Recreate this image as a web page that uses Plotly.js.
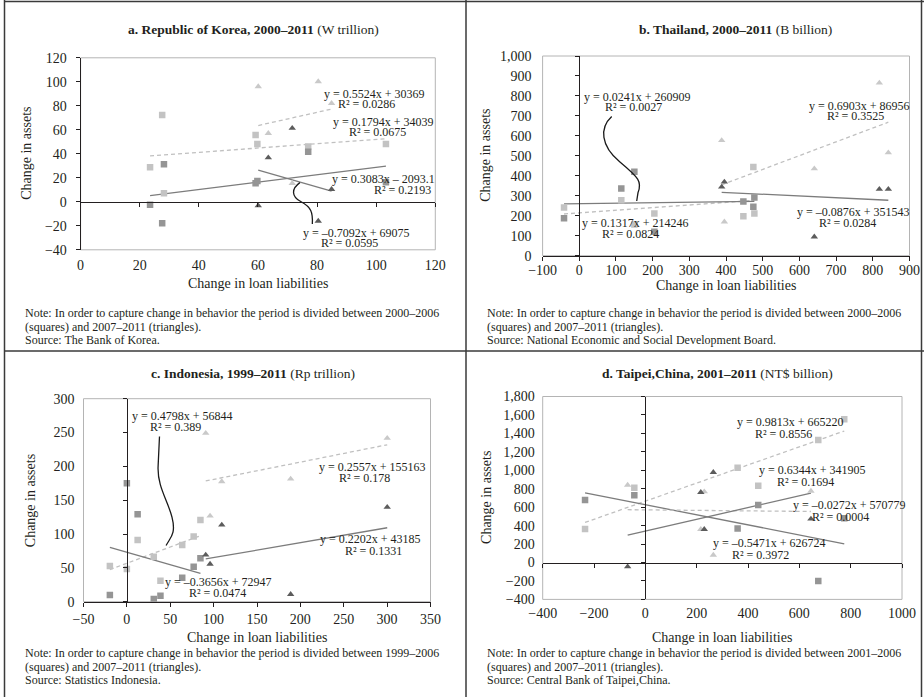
<!DOCTYPE html>
<html>
<head>
<meta charset="utf-8">
<script src="https://cdn.plot.ly/plotly-3.0.1.min.js"></script>
<style>
html,body{margin:0;padding:0;background:#fff;}
#chart{width:924px;height:697px;}
</style>
</head>
<body>
<div id="chart"></div>
<script>
// ---- a. Republic of Korea, 2000–2011 (W trillion) ----
const korLoanSq   = [23.5, 27.6, 28.2, 59.2, 59.8, 77.0, 103.3];
const korSqLight  = [28.8, 72.4, 7.1, 55.7, 48.2, 46.0, 48.2];
const korSqDark   = [-2.4, -17.9, 31.3, 15.4, 17.4, 41.8, 16.3];
const korLoanTri  = [60.1, 63.5, 71.6, 80.4, 84.9];
const korTriLight = [96.0, 57.1, 15.4, 100.2, 82.1];
const korTriDark  = [-3.2, 36.8, 61.3, -16.0, 10.4];
// trendline [slope, intercept, R²]
const korFitSqLight  = [0.1794, 34039, 0.0675];
const korFitSqDark   = [0.3083, -2093.1, 0.2193];
const korFitTriLight = [0.5524, 30369, 0.0286];
const korFitTriDark  = [-0.7092, 69075, 0.0595];

// ---- b. Thailand, 2000–2011 (B billion) ----
const thaLoanSq   = [-41.6, 114.5, 150.1, 204.6, 447.2, 474.4, 477.2];
const thaSqLight  = [241.3, 277.9, 156.4, 211.3, 198.0, 444.3, 211.3];
const thaSqDark   = [188.0, 336.1, 421.0, 119.8, 271.2, 244.6, 291.2];
const thaLoanTri  = [388.1, 395.4, 640.6, 817.8, 842.3];
const thaTriLight = [577.4, 169.7, 435.9, 865.2, 515.8];
const thaTriDark  = [344.4, 369.4, 94.8, 332.8, 332.8];
const thaFitSqLight  = [0.1317, 214246, 0.0824];
const thaFitSqDark   = [0.0241, 260909, 0.0027];
const thaFitTriLight = [0.6903, 86956, 0.3525];
const thaFitTriDark  = [-0.0876, 351543, 0.0284];

// ---- c. Indonesia, 1999–2011 (Rp trillion) ----
const idnLoanSq   = [-19.6, 0, 12.4, 31, 38.7, 63.8, 77, 84.8];
const idnSqLight  = [52.8, 48.3, 91.3, 66.6, 31.1, 83.9, 96.2, 120.9];
const idnSqDark   = [9.9, 175.1, 129.3, 3.9, 8.9, 35.5, 51.8, 64.1];
const idnLoanTri  = [90.9, 95.9, 109.4, 188.8, 300.1];
const idnTriLight = [249.1, 126.8, 177.6, 181.5, 241.7];
const idnTriDark  = [69.1, 55.7, 113.5, 10.9, 139.6];
const idnFitSqLight  = [0.4798, 56844, 0.389];
const idnFitSqDark   = [-0.3656, 72947, 0.0474];
const idnFitTriLight = [0.2557, 155163, 0.178];
const idnFitTriDark  = [0.2202, 43185, 0.1331];

// ---- d. Taipei,China, 2001–2011 (NT$ billion) ----
const twnLoanSq   = [-235, -43, 359.5, 439.9, 673.8, 775];
const twnSqLight  = [363, 811, 1028, 833, 1328, 1552];
const twnSqDark   = [678, 728, 370, 623, -201, 479];
const twnLoanTri  = [-69, 216, 229.6, 264.7, 645.2];
const twnTriLight = [840, 360, 768, 81, 775];
const twnTriDark  = [-45, 761, 360, 978, 472];
const twnFitSqLight  = [0.9813, 665220, 0.8556];
const twnFitSqDark   = [-0.5471, 626724, 0.3972];
const twnFitTriLight = [-0.0272, 570779, 0.0004];
const twnFitTriDark  = [0.6344, 341905, 0.1694];

const panelTitles = [
  '<b>a. Republic of Korea, 2000–2011</b> (W trillion)',
  '<b>b. Thailand, 2000–2011</b> (B billion)',
  '<b>c. Indonesia, 1999–2011</b> (Rp trillion)',
  '<b>d. Taipei,China, 2001–2011</b> (NT$ billion)'
];
const xTitle = 'Change in loan liabilities';
const yTitle = 'Change in assets';
const notePeriods = ['2000–2006', '2000–2006', '1999–2006', '2001–2006'];
const sources = [
  'Source: The Bank of Korea.',
  'Source: National Economic and Social Development Board.',
  'Source: Statistics Indonesia.',
  'Source: Central Bank of Taipei,China.'
];

// ---------------------------------------------------------------
const W = 924, H = 697;
const px = v => v / W;
const py = v => 1 - v / H;
const FONT = '"Liberation Serif", "Times New Roman", serif';
const INK = '#231f20';
const FRAME = '#b4b4b4';

const STYLE = {
  sqL:  {sym: 'square', size: 6.5, color: '#c3c3c3', fit: {color: '#c0c0c0', dash: '4px,3px'}},
  sqD:  {sym: 'square', size: 6.5, color: '#959595', fit: {color: '#7c7c7c', dash: 'solid'}},
  triL: {sym: 'triangle-up', size: 6.5, color: '#c9c9c9', fit: {color: '#c0c0c0', dash: '4px,3px'}},
  triD: {sym: 'triangle-up', size: 6.5, color: '#5c5c5c', fit: {color: '#7c7c7c', dash: 'solid'}}
};

const panels = [
  {x: 'x', y: 'y', box: [80.6, 57.8, 435.3, 249.8], xr: [0, 120], xdt: 20, yr: [-40, 120], ydt: 20, yfmt: '',
   zeroX: true, zeroY: false, xStand: 5, yStand: 6,
   titlePos: [253, 29], yTitleX: 27, xTitleY: 283, noteX: 23, noteY: [313, 327, 340],
   series: [
     {kind: 'sqL', xs: korLoanSq, ys: korSqLight, fit: korFitSqLight, eq: [102.6, 66.8], r2: [100.4, 57.9]},
     {kind: 'sqD', xs: korLoanSq, ys: korSqDark, fit: korFitSqDark, eq: [102.6, 18.8], r2: [108.8, 9.9]},
     {kind: 'triL', xs: korLoanTri, ys: korTriLight, fit: korFitTriLight, eq: [99.3, 89.9], r2: [96.8, 81.3]},
     {kind: 'triD', xs: korLoanTri, ys: korTriDark, fit: korFitTriDark, eq: [93.4, -26.3], r2: [91.1, -34.6]}
   ],
   connector: 'M 74.2,16.0 C 71.3,11 71.2,4.5 74.6,0 S 78.6,-8.5 78.4,-18.5'},
  {x: 'x2', y: 'y2', box: [542.6, 56, 909.5, 255.7], xr: [-100, 900], xdt: 100, yr: [0, 1000], ydt: 100, yfmt: ',',
   zeroX: false, zeroY: true, xStand: -3, yStand: 10,
   titlePos: [735, 29], yTitleX: 486, xTitleY: 285, noteX: 485, noteY: [313, 327, 340],
   series: [
     {kind: 'sqL', xs: thaLoanSq, ys: thaSqLight, fit: thaFitSqLight, eq: [153.7, 161.4], r2: [138.3, 108.2]},
     {kind: 'sqD', xs: thaLoanSq, ys: thaSqDark, fit: thaFitSqDark, eq: [158.3, 793.7], r2: [147.4, 743.8]},
     {kind: 'triL', xs: thaLoanTri, ys: thaTriLight, fit: thaFitTriLight, eq: [762.5, 752], r2: [753.4, 702]},
     {kind: 'triD', xs: thaLoanTri, ys: thaTriDark, fit: thaFitTriDark, eq: [747, 219.6], r2: [729.8, 161.4]}
   ],
   connector: 'M 88.3,697 C 55,640 58,550 110,470 S 172,370 160,315 L 156.5,274'},
  {x: 'x3', y: 'y3', box: [83.5, 398.7, 430.5, 601.7], xr: [-50, 350], xdt: 50, yr: [0, 300], ydt: 50, yfmt: '',
   zeroX: false, zeroY: true, xStand: 0, yStand: 8,
   titlePos: [253, 373], yTitleX: 30, xTitleY: 637, noteX: 23, noteY: [653, 667, 680],
   series: [
     {kind: 'sqL', xs: idnLoanSq, ys: idnSqLight, fit: idnFitSqLight, eq: [64, 273.8], r2: [55.6, 257.5]},
     {kind: 'sqD', xs: idnLoanSq, ys: idnSqDark, fit: idnFitSqDark, eq: [105.5, 29.6], r2: [103.9, 12.3]},
     {kind: 'triL', xs: idnLoanTri, ys: idnTriLight, fit: idnFitTriLight, eq: [283.2, 199.8], r2: [273.6, 182.5]},
     {kind: 'triD', xs: idnLoanTri, ys: idnTriDark, fit: idnFitTriDark, eq: [280.8, 92.3], r2: [284.7, 75.5]}
   ],
   connector: 'M 37.6,244 L 36,200 C 35,170 47,150 52,125 S 50,95 45.2,83'},
  {x: 'x4', y: 'y4', box: [542.7, 396.5, 902, 599.4], xr: [-400, 1000], xdt: 200, yr: [-400, 1800], ydt: 200, yfmt: ',',
   zeroX: true, zeroY: true, xStand: 4, yStand: 7,
   titlePos: [717, 373], yTitleX: 487, xTitleY: 637, noteX: 485, noteY: [653, 667, 680],
   series: [
     {kind: 'sqL', xs: twnLoanSq, ys: twnSqLight, fit: twnFitSqLight, eq: [566, 1520], r2: [537, 1393]},
     {kind: 'sqD', xs: twnLoanSq, ys: twnSqDark, fit: twnFitSqDark, eq: [485, 208], r2: [449, 81]},
     {kind: 'triL', xs: twnLoanTri, ys: twnTriLight, fit: twnFitTriLight, eq: [797, 623], r2: [760, 497]},
     {kind: 'triD', xs: twnLoanTri, ys: twnTriDark, fit: twnFitTriDark, eq: [650, 1003], r2: [624, 876]}
   ],
   connector: null}
];

const fmtEq = f => {
  const s = f[0] < 0 ? '–' + Math.abs(f[0]) : String(f[0]);
  const b = f[1] < 0 ? ' – ' + Math.abs(f[1]) : ' + ' + f[1];
  return 'y = ' + s + 'x' + b;
};

const traces = [];
const annotations = [];
const shapes = [];
const layout = {
  width: W, height: H,
  margin: {l: 0, r: 0, t: 0, b: 0},
  paper_bgcolor: '#ffffff',
  plot_bgcolor: 'rgba(0,0,0,0)',
  showlegend: false,
  font: {family: FONT, size: 14, color: INK}
};

const axisBase = {
  showgrid: false, zeroline: false, showline: false, ticks: '',
  tickfont: {family: FONT, size: 14, color: INK}, fixedrange: true
};

let overlayX = 5, overlayY = 5;

panels.forEach((p, i) => {
  const [l, t, r, b] = p.box;
  const xdom = [px(l), px(r)];
  const ydom = [py(b), py(t)];
  const xKey = 'xaxis' + (p.x === 'x' ? '' : p.x.slice(1));
  const yKey = 'yaxis' + (p.y === 'y' ? '' : p.y.slice(1));

  // horizontal axis: labels along the bottom edge
  layout[xKey] = Object.assign({}, axisBase, {
    domain: xdom, range: p.xr, tick0: p.xr[0], dtick: p.xdt, anchor: p.y,
    ticklabelstandoff: p.xStand,
    showline: !p.zeroX, linecolor: INK, linewidth: 1,
    ticks: p.zeroX ? '' : 'outside', ticklen: 4, tickcolor: INK
  });
  // vertical axis: labels along the left edge
  layout[yKey] = Object.assign({}, axisBase, {
    domain: ydom, range: p.yr, tick0: p.yr[0], dtick: p.ydt, anchor: p.x,
    tickformat: p.yfmt,
    showline: !p.zeroY, linecolor: INK, linewidth: 1,
    ticks: p.zeroY ? '' : 'outside', ticklen: 4, tickcolor: INK,
    ticklabelstandoff: p.yStand
  });

  // x axis line running through y = 0
  if (p.zeroX) {
    const pos = ydom[0] + (0 - p.yr[0]) / (p.yr[1] - p.yr[0]) * (ydom[1] - ydom[0]);
    layout['xaxis' + overlayX] = Object.assign({}, axisBase, {
      overlaying: p.x, anchor: 'free', position: pos, domain: xdom, side: 'bottom',
      range: p.xr, tick0: p.xr[0], dtick: p.xdt, showticklabels: false,
      showline: true, linecolor: INK, linewidth: 1, ticks: 'outside', ticklen: 4, tickcolor: INK
    });
    traces.push({type: 'scatter', x: [], y: [], xaxis: 'x' + overlayX, yaxis: p.y, hoverinfo: 'skip', showlegend: false});
    overlayX++;
  }
  // y axis line running through x = 0
  if (p.zeroY) {
    const pos = xdom[0] + (0 - p.xr[0]) / (p.xr[1] - p.xr[0]) * (xdom[1] - xdom[0]);
    layout['yaxis' + overlayY] = Object.assign({}, axisBase, {
      overlaying: p.y, anchor: 'free', position: pos, domain: ydom, side: 'left',
      range: p.yr, tick0: p.yr[0], dtick: p.ydt, showticklabels: false,
      showline: true, linecolor: INK, linewidth: 1, ticks: 'outside', ticklen: 4, tickcolor: INK
    });
    traces.push({type: 'scatter', x: [], y: [], xaxis: p.x, yaxis: 'y' + overlayY, hoverinfo: 'skip', showlegend: false});
    overlayY++;
  }

  // light grey plot frame
  shapes.push({type: 'rect', xref: 'paper', yref: 'paper', x0: xdom[0], x1: xdom[1], y0: ydom[0], y1: ydom[1],
               line: {color: FRAME, width: 1}, layer: 'below'});

  // trendlines from the stated equations, over each series' x extent
  p.series.forEach(s => {
    const st = STYLE[s.kind];
    const lo = Math.min(...s.xs), hi = Math.max(...s.xs);
    const c = s.fit[1] / 1000;
    traces.push({
      type: 'scatter', mode: 'lines', x: [lo, hi], y: [s.fit[0] * lo + c, s.fit[0] * hi + c],
      xaxis: p.x, yaxis: p.y, line: {color: st.fit.color, width: 1.3, dash: st.fit.dash},
      hoverinfo: 'skip', showlegend: false
    });
  });
  // observations and their equation labels
  p.series.forEach(s => {
    const st = STYLE[s.kind];
    traces.push({
      type: 'scatter', mode: 'markers', x: s.xs, y: s.ys, xaxis: p.x, yaxis: p.y,
      marker: {symbol: st.sym, size: st.size, color: st.color, line: {width: 0}},
      hoverinfo: 'skip', showlegend: false
    });
    annotations.push({xref: p.x, yref: p.y, x: s.eq[0], y: s.eq[1], text: fmtEq(s.fit), showarrow: false,
                      xanchor: 'center', yanchor: 'middle', font: {family: FONT, size: 12, color: INK}});
    annotations.push({xref: p.x, yref: p.y, x: s.r2[0], y: s.r2[1], text: 'R² = ' + s.fit[2], showarrow: false,
                      xanchor: 'center', yanchor: 'middle', font: {family: FONT, size: 12, color: INK}});
  });

  if (p.connector) {
    shapes.push({type: 'path', xref: p.x, yref: p.y, path: p.connector, line: {color: '#1a1a1a', width: 1.3}});
  }

  // panel title, axis titles and notes
  annotations.push({xref: 'paper', yref: 'paper', x: px(p.titlePos[0]), y: py(p.titlePos[1]), text: panelTitles[i],
                    showarrow: false, xanchor: 'center', yanchor: 'middle', font: {family: FONT, size: 13.5, color: INK}});
  annotations.push({xref: 'paper', yref: 'paper', x: (xdom[0] + xdom[1]) / 2, y: py(p.xTitleY), text: xTitle,
                    showarrow: false, xanchor: 'center', yanchor: 'middle', font: {family: FONT, size: 14, color: INK}});
  annotations.push({xref: 'paper', yref: 'paper', x: px(p.yTitleX), y: (ydom[0] + ydom[1]) / 2, text: yTitle, textangle: -90,
                    showarrow: false, xanchor: 'center', yanchor: 'middle', font: {family: FONT, size: 14, color: INK}});
  const noteLines = [
    'Note: In order to capture change in behavior the period is divided between ' + notePeriods[i],
    '(squares) and 2007–2011 (triangles).',
    sources[i]
  ];
  noteLines.forEach((txt, j) => {
    annotations.push({xref: 'paper', yref: 'paper', x: px(p.noteX), y: py(p.noteY[j]), text: txt,
                      showarrow: false, xanchor: 'left', yanchor: 'middle', font: {family: FONT, size: 12, color: INK}});
  });
});

// outer frame and panel dividers
const rule = (x0, y0, x1, y1) => ({type: 'line', xref: 'paper', yref: 'paper', x0: px(x0), y0: py(y0), x1: px(x1), y1: py(y1),
                                    line: {color: '#3a3a3a', width: 1.5}});
shapes.push(rule(4.5, 0, 4.5, H));
shapes.push(rule(4, 1.5, W, 1.5));
shapes.push(rule(921.5, 0, 921.5, H));
shapes.push(rule(466, 0, 466, H));
shapes.push(rule(4, 351, W, 351));

layout.annotations = annotations;
layout.shapes = shapes;

Plotly.newPlot('chart', traces, layout, {staticPlot: true, displayModeBar: false});
</script>
</body>
</html>
